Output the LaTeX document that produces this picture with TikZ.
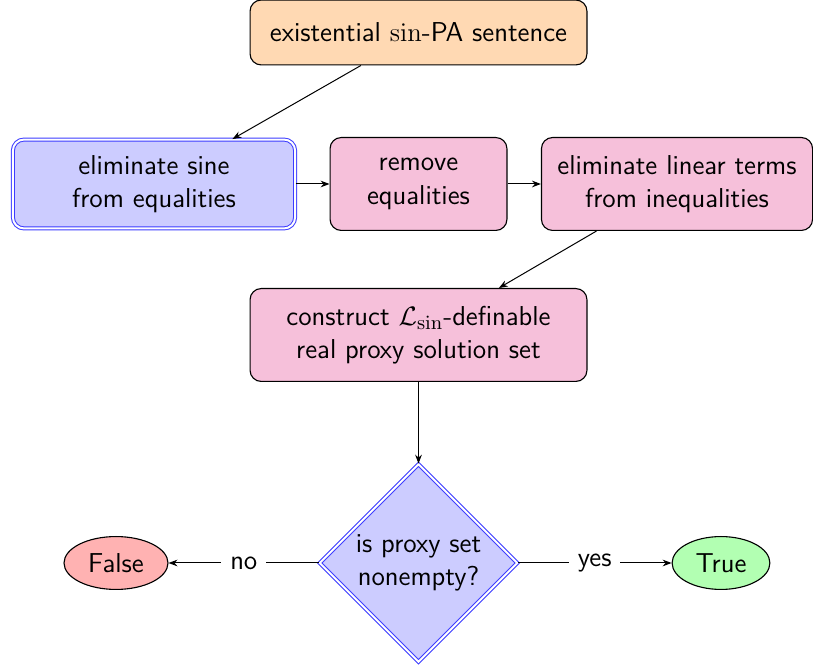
\documentclass[tikz,border=0pt]{standalone}
\usetikzlibrary{shapes.geometric,arrows.meta}
\definecolor{pinkfill}{RGB}{246,192,218}
\definecolor{orangefill}{RGB}{255,217,179}
\definecolor{bluefill}{RGB}{204,204,255}
\definecolor{dblue}{RGB}{60,60,255}
\begin{document}
\begin{tikzpicture}[x=0.45pt,y=-0.45pt,
  font=\sffamily\fontsize{12.3}{15}\selectfont,
  box/.style={draw, rounded corners=5pt, align=center, inner sep=0pt, line width=0.5pt},
  dbl/.style={draw=dblue, double=white, double distance=0.9pt, line width=0.45pt},
  conn/.style={-{Stealth[length=4pt,width=3pt]}, line width=0.45pt},
  term/.style={ellipse, draw, inner sep=0pt, line width=0.5pt}]
\useasboundingbox (0,0) rectangle (813,668);
\node[box, fill=orangefill, minimum width=151.6pt, minimum height=29.2pt] (start) at (418.5,32.5) {existential $\sin$-PA sentence};
\node[box, dbl, fill=bluefill, minimum width=127pt, minimum height=40pt] (elim) at (154,184) {eliminate sine\\from equalities};
\node[box, fill=pinkfill, minimum width=79.6pt, minimum height=41.8pt] (remove) at (418.5,184) {remove\\equalities};
\node[box, fill=pinkfill, minimum width=122pt, minimum height=41.8pt] (lin) at (677,184) {eliminate linear terms\\from inequalities};
\node[box, fill=pinkfill, minimum width=151.6pt, minimum height=41.8pt] (cons) at (418.5,335) {construct $\mathcal{L}_{\sin}$-definable\\real proxy solution set};
\node[diamond, dbl, fill=bluefill, align=center, inner sep=0pt, minimum width=89pt, minimum height=89pt] (dec) at (418.5,563) {is proxy set\\nonempty?};
\node[term, fill=red!30, minimum width=46.8pt, minimum height=23.8pt] (false) at (116,563) {False};
\node[term, fill=green!30, minimum width=44pt, minimum height=23.8pt] (true) at (721,563) {True};
\draw[conn] (start) -- (elim);
\draw[conn] (elim) -- (remove);
\draw[conn] (remove) -- (lin);
\draw[conn] (lin) -- (cons);
\draw[conn] (cons) -- (dec);
\draw[conn] (dec) -- node[fill=white, inner sep=4pt] {no} (false);
\draw[conn] (dec) -- node[fill=white, inner sep=4pt] {yes} (true);
\end{tikzpicture}
\end{document}
